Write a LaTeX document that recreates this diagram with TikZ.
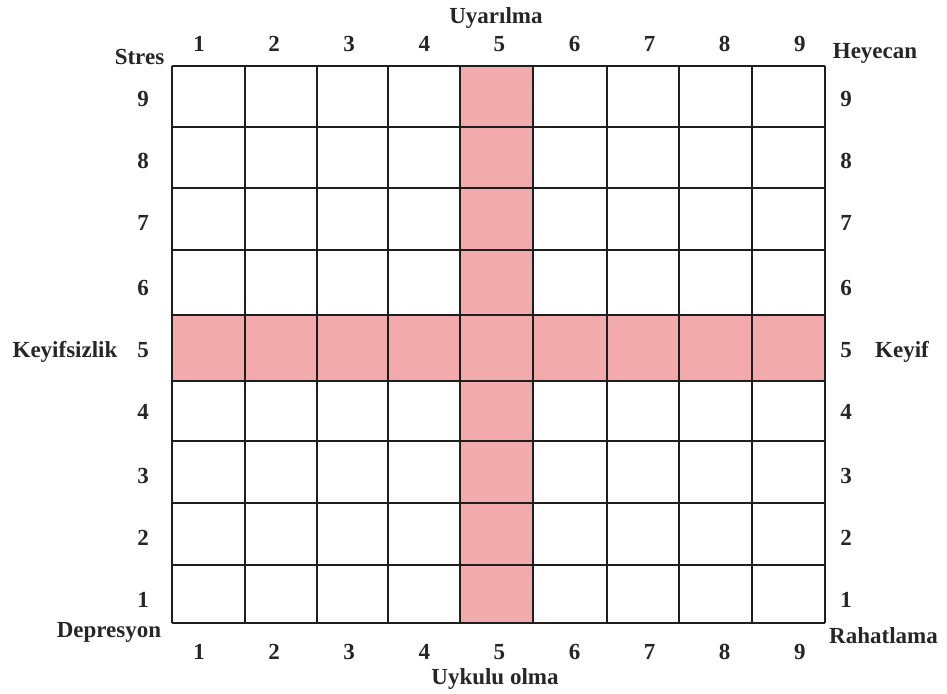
\documentclass[tikz,border=0pt]{standalone}
\usepackage{fontspec}
\setmainfont{Liberation Serif}
\definecolor{cellpink}{RGB}{242,170,172}
\definecolor{gridline}{RGB}{30,30,30}
\tikzset{
  lbl/.style={font=\bfseries\fontsize{23}{27}\selectfont, inner sep=0pt, anchor=base, text=black!85},
  gridl/.style={draw=gridline, line width=1.5pt},
  gridthick/.style={draw=gridline, line width=2.2pt}
}
\begin{document}
\begin{tikzpicture}[x=1pt,y=-1pt]
\useasboundingbox (0,0) rectangle (947,693);
% pink cross
\fill[cellpink] (460,66) rectangle (533,623);
\fill[cellpink] (172,315) rectangle (825,381);
% grid lines
\foreach \yy in {66,127,188,250,315,381,441,503,565,623}
  \draw[gridl] (172,\yy) -- (825,\yy);
\foreach \xx in {172,245,317,460,533,679,752,825}
  \draw[gridl] (\xx,66) -- (\xx,623);
\foreach \xx in {388,607}
  \draw[gridthick] (\xx,66) -- (\xx,623);
% column numbers top and bottom
\foreach \i in {1,...,9}{
  \node[lbl] (top\i) at ({199+75.1*(\i-1)},52) {\i};
  \node[lbl] (bot\i) at ({199+75.1*(\i-1)},659) {\i};
}
% row numbers left and right
\foreach \i/\yy in {9/106,8/168,7/230,6/295,5/357,4/419,3/483,2/545,1/607}{
  \node[lbl] (left\i) at (143,\yy) {\i};
  \node[lbl] (right\i) at (846,\yy) {\i};
}
% axis words
\node[lbl] (uyar) at (496,24) {Uyarılma};
\node[lbl] (uyku) at (495,684) {Uykulu olma};
\node[lbl] (stres) at (139.5,65) {Stres};
\node[lbl] (heye) at (875,59) {Heyecan};
\node[lbl] (keyifs) at (65,357) {Keyifsizlik};
\node[lbl] (keyif) at (902,357) {Keyif};
\node[lbl] (depr) at (109,637) {Depresyon};
\node[lbl, anchor=base west] (rahat) at (829,643) {Rahatlama};
\end{tikzpicture}
\end{document}
